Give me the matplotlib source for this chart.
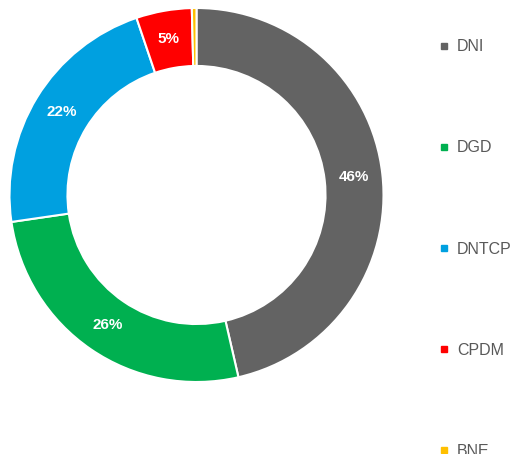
import matplotlib
matplotlib.use("Agg")
import matplotlib.pyplot as plt
from matplotlib.lines import Line2D
import numpy as np

# data
categories = ["DNI", "DGD", "DNTCP", "CPDM", "BNE"]
shares = [46.4, 26.3, 22.1, 4.8, 0.4]
pct_labels = ["46%", "26%", "22%", "5%", ""]
colors = ["#636363", "#00B050", "#00A0E0", "#FF0000", "#FFC000"]

W, H = 532, 454
fig = plt.figure(figsize=(W / 100, H / 100), dpi=100)

# donut centre ~ (196.5, 195) px from top, outer radius ~187 px
cx, cy, r = 196.5, 195, 187
ax = fig.add_axes([(cx - r) / W, (H - cy - r) / H, 2 * r / W, 2 * r / H])
ax.set_aspect("equal")
ax.axis("off")

ring = 0.31
wedges, _ = ax.pie(shares, colors=colors, startangle=90, counterclock=False,
                   radius=1, wedgeprops=dict(width=ring, edgecolor="white", linewidth=1.5))
ax.set_xlim(-1, 1)
ax.set_ylim(-1, 1)

# percentage labels in the middle of the ring
mid_r = 1 - ring / 2
for w, lab in zip(wedges, pct_labels):
    if not lab:
        continue
    ang = np.deg2rad((w.theta1 + w.theta2) / 2)
    ax.text(mid_r * np.cos(ang), mid_r * np.sin(ang), lab, ha="center", va="center",
            color="white", fontsize=11, fontweight="bold", family="Liberation Sans")

handles = [Line2D([], [], marker="s", linestyle="none", markersize=5,
                  markerfacecolor=c, markeredgecolor=c) for c in colors]
leg = fig.legend(handles, categories, loc="upper left", bbox_to_anchor=(433 / W, 1 - 33 / H),
                 frameon=False, labelspacing=5.39, handlelength=0.6, handletextpad=0.5,
                 borderaxespad=0, prop=dict(family="Liberation Sans", size=11.5))
for t in leg.get_texts():
    t.set_color("#595959")

fig.savefig("out.png", dpi=100)
